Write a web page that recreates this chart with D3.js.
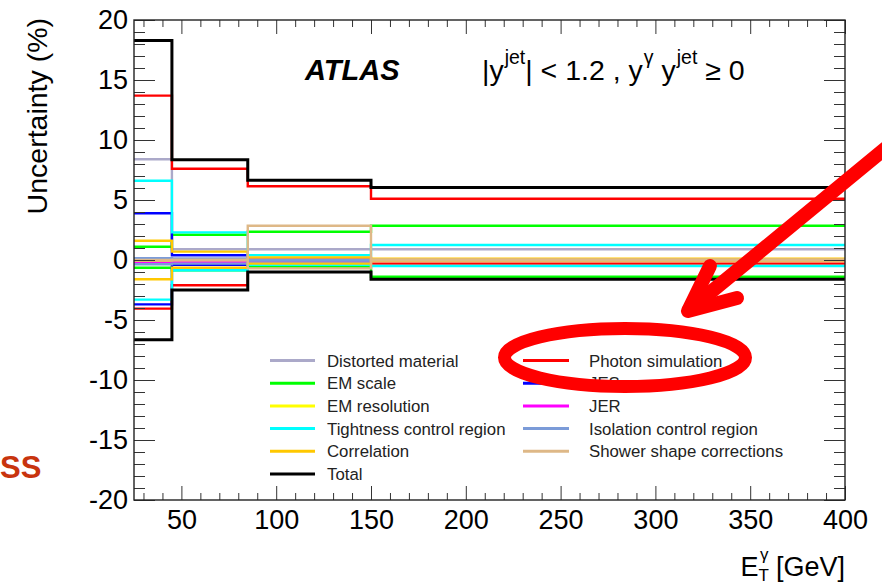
<!DOCTYPE html>
<html>
<head>
<meta charset="utf-8">
<script src="https://cdn.jsdelivr.net/npm/d3@7"></script>
<style>
  body { margin: 0; background: #fff; }
  svg { display: block; font-family: "Liberation Sans", Arial, Helvetica, sans-serif; }
</style>
</head>
<body>
<svg id="chart" width="882" height="585"></svg>
<script>
// Photon E_T bin edges [GeV]
const binEdges = [25, 45, 85, 150, 400];

// Relative systematic uncertainties per bin (%), upward and downward variations
const materialUp      = [8.4, 0.9, 0.9, 0.9];
const materialDown    = [0.15, 0.1, 0.05, 0.05];
const photonSimUp     = [13.7, 7.6, 6.15, 5.1];
const photonSimDown   = [-4.05, -2.1, -0.5, -0.3];
const emScaleUp       = [1.1, 2.1, 2.35, 2.85];
const emScaleDown     = [-0.65, -0.85, -0.55, -1.4];
const jesUp           = [3.9, 0.4, 0.1, 0.05];
const jesDown         = [-3.7, -0.4, -0.1, -0.05];
const emResUp         = [0.1, 0.05, 0.05, 0.05];
const emResDown       = [-0.1, -0.05, -0.05, -0.05];
const jerUp           = [0.05, 0.05, 0.02, 0.02];
const jerDown         = [-0.25, -0.2, -0.05, -0.1];
const isolationUp     = [0.15, 0.1, 0.0, 0.0];
const isolationDown   = [-0.35, -0.3, -0.05, -0.05];
const tightnessUp     = [6.6, 2.3, 0.4, 1.25];
const tightnessDown   = [-3.3, -0.85, -0.4, -0.5];
const correlationUp   = [1.6, 0.7, 0.22, 0.1];
const correlationDown = [-1.6, -0.65, -0.3, -0.1];
const showerUp        = [0.0, 0.0, 2.85, 0.05];
const showerDown      = [-0.05, 0.0, -0.7, -0.05];
const totalUp         = [18.3, 8.35, 6.65, 6.05];
const totalDown       = [-6.65, -2.5, -1.0, -1.6];

// Axis ticks
const xMajorTicks = [50, 100, 150, 200, 250, 300, 350, 400];
const yMajorTicks = [-20, -15, -10, -5, 0, 5, 10, 15, 20];

// Legend columns
const legendLeft  = ["Distorted material", "EM scale", "EM resolution", "Tightness control region", "Correlation", "Total"];
const legendRight = ["Photon simulation", "JES", "JER", "Isolation control region", "Shower shape corrections"];

// Source table (in drawing order)
const sources = [
  { name: "Distorted material",       color: "#aba9c9", up: materialUp,    down: materialDown },
  { name: "Photon simulation",        color: "#ff0000", up: photonSimUp,   down: photonSimDown },
  { name: "EM scale",                 color: "#00ff00", up: emScaleUp,     down: emScaleDown },
  { name: "JES",                      color: "#0000ff", up: jesUp,         down: jesDown },
  { name: "EM resolution",            color: "#ffff00", up: emResUp,       down: emResDown },
  { name: "JER",                      color: "#ff00ff", up: jerUp,         down: jerDown },
  { name: "Isolation control region", color: "#7b9bd8", up: isolationUp,   down: isolationDown },
  { name: "Tightness control region", color: "#00ffff", up: tightnessUp,   down: tightnessDown },
  { name: "Correlation",              color: "#ffc800", up: correlationUp, down: correlationDown },
  { name: "Shower shape corrections", color: "#deb887", up: showerUp,      down: showerDown },
  { name: "Total",                    color: "#000000", up: totalUp,       down: totalDown }
];
const byName = new Map(sources.map(s => [s.name, s]));

const svg = d3.select("#chart");
const plot = { left: 134, right: 845, top: 20, bottom: 500 };

const x = d3.scaleLinear().domain([25, 400]).range([plot.left, plot.right]);
const y = d3.scaleLinear().domain([-20, 20]).range([plot.bottom, plot.top]);

svg.append("rect").attr("width", 882).attr("height", 585).attr("fill", "#fff");

svg.append("defs").append("clipPath").attr("id", "plotClip")
  .append("rect")
  .attr("x", plot.left).attr("y", plot.top)
  .attr("width", plot.right - plot.left).attr("height", plot.bottom - plot.top);

// Histogram step lines
const stepLine = d3.line()
  .x(d => x(d[0]))
  .y(d => y(d[1]))
  .curve(d3.curveStepAfter);

function histPoints(values) {
  const pts = values.map((v, i) => [binEdges[i], v]);
  pts.push([binEdges[binEdges.length - 1], values[values.length - 1]]);
  return pts;
}

const lines = svg.append("g").attr("clip-path", "url(#plotClip)");
sources.forEach(s => {
  [s.up, s.down].forEach(vals => {
    lines.append("path")
      .attr("d", stepLine(histPoints(vals)))
      .attr("fill", "none")
      .attr("stroke", s.color)
      .attr("stroke-width", s.name === "Total" ? 3 : 2.4)
      .attr("stroke-linejoin", "miter");
  });
});

// Axes: ticks point into the frame on all four sides
const tickColor = "#333";
const xMinor = d3.range(30, 401, 10).filter(v => v % 50 !== 0);
const yMinor = d3.range(-19, 20, 1).filter(v => v % 5 !== 0);
const plainNumber = d => String(d);

function styleAxis(g) {
  g.select(".domain").remove();
  g.selectAll(".tick line").attr("stroke", tickColor).attr("stroke-width", 1);
  g.selectAll("text").attr("fill", "#000");
}

// bottom
svg.append("g").attr("transform", `translate(0,${plot.bottom})`)
  .call(d3.axisBottom(x).tickValues(xMajorTicks).tickSizeInner(-14).tickSizeOuter(0).tickPadding(10).tickFormat(plainNumber))
  .call(styleAxis)
  .selectAll("text").attr("font-size", 27).attr("font-family", "Liberation Sans, Arial, sans-serif");
svg.append("g").attr("transform", `translate(0,${plot.bottom})`)
  .call(d3.axisBottom(x).tickValues(xMinor).tickSizeInner(-7).tickSizeOuter(0).tickFormat(""))
  .call(styleAxis);
// top
svg.append("g").attr("transform", `translate(0,${plot.top})`)
  .call(d3.axisTop(x).tickValues(xMajorTicks).tickSizeInner(-14).tickSizeOuter(0).tickFormat(""))
  .call(styleAxis);
svg.append("g").attr("transform", `translate(0,${plot.top})`)
  .call(d3.axisTop(x).tickValues(xMinor).tickSizeInner(-7).tickSizeOuter(0).tickFormat(""))
  .call(styleAxis);
// left
svg.append("g").attr("transform", `translate(${plot.left},0)`)
  .call(d3.axisLeft(y).tickValues(yMajorTicks).tickSizeInner(-21).tickSizeOuter(0).tickPadding(6).tickFormat(plainNumber))
  .call(styleAxis)
  .selectAll("text").attr("font-size", 27).attr("font-family", "Liberation Sans, Arial, sans-serif");
svg.append("g").attr("transform", `translate(${plot.left},0)`)
  .call(d3.axisLeft(y).tickValues(yMinor).tickSizeInner(-11).tickSizeOuter(0).tickFormat(""))
  .call(styleAxis);
// right
svg.append("g").attr("transform", `translate(${plot.right},0)`)
  .call(d3.axisRight(y).tickValues(yMajorTicks).tickSizeInner(-21).tickSizeOuter(0).tickFormat(""))
  .call(styleAxis);
svg.append("g").attr("transform", `translate(${plot.right},0)`)
  .call(d3.axisRight(y).tickValues(yMinor).tickSizeInner(-11).tickSizeOuter(0).tickFormat(""))
  .call(styleAxis);

// Frame
svg.append("rect")
  .attr("x", plot.left).attr("y", plot.top)
  .attr("width", plot.right - plot.left).attr("height", plot.bottom - plot.top)
  .attr("fill", "none").attr("stroke", "#222").attr("stroke-width", 1.4);

// Axis titles
svg.append("text")
  .attr("transform", `translate(47,${plot.top - 2}) rotate(-90)`)
  .attr("text-anchor", "end")
  .attr("font-size", 28.5)
  .text("Uncertainty (%)");

const xt = svg.append("text")
  .attr("x", plot.right).attr("y", 576)
  .attr("text-anchor", "end")
  .attr("font-size", 27);
xt.append("tspan").text("E");
xt.append("tspan").attr("font-size", 17).attr("dy", 5).text("T");
xt.append("tspan").attr("font-size", 17).attr("dx", -9).attr("dy", -21).text("γ");
xt.append("tspan").attr("dy", 16).text(" [GeV]");

// ATLAS label and selection
svg.append("text")
  .attr("x", 305).attr("y", 80)
  .attr("font-size", 29).attr("font-weight", "bold").attr("font-style", "italic")
  .text("ATLAS");

const sel = svg.append("text").attr("x", 482).attr("y", 80).attr("font-size", 28.5);
sel.append("tspan").text("|y");
sel.append("tspan").attr("font-size", 19.5).attr("dx", 1).attr("dy", -16).text("jet");
sel.append("tspan").attr("dy", 16).text("| < 1.2 , y");
sel.append("tspan").attr("font-size", 19.5).attr("dx", 1).attr("dy", -16).text("γ");
sel.append("tspan").attr("dy", 16).text(" y");
sel.append("tspan").attr("font-size", 19.5).attr("dx", 1).attr("dy", -16).text("jet");
sel.append("tspan").attr("dy", 16).text(" ≥ 0");

// Legend
const rowY0 = 360.5, rowStep = 22.7;
function drawLegendColumn(names, lineX0, lineX1, textX) {
  names.forEach((name, i) => {
    const s = byName.get(name);
    const yy = rowY0 + i * rowStep;
    svg.append("line")
      .attr("x1", lineX0).attr("x2", lineX1).attr("y1", yy).attr("y2", yy)
      .attr("stroke", s.color).attr("stroke-width", 3);
    svg.append("text")
      .attr("x", textX).attr("y", yy).attr("dy", "0.36em")
      .attr("font-size", 16.8).attr("fill", "#222")
      .text(name);
  });
}
drawLegendColumn(legendLeft, 270, 315, 327);
drawLegendColumn(legendRight, 523, 569, 589);

// Highlight marks
const marks = svg.append("g").attr("stroke", "#ff0000").attr("fill", "none")
  .attr("stroke-linecap", "round").attr("stroke-linejoin", "round");
marks.append("ellipse")
  .attr("cx", 625).attr("cy", 357.5).attr("rx", 120.5).attr("ry", 29)
  .attr("stroke-width", 13);
marks.append("path")
  .attr("d", "M886,148 L689,310")
  .attr("stroke-width", 14);
marks.append("path")
  .attr("d", "M710,266 L688,311 L737,298")
  .attr("stroke-width", 14);

svg.append("text")
  .attr("x", 0).attr("y", 478)
  .attr("font-size", 31).attr("font-weight", "bold").attr("fill", "#c8340e")
  .text("SS");
</script>
</body>
</html>
